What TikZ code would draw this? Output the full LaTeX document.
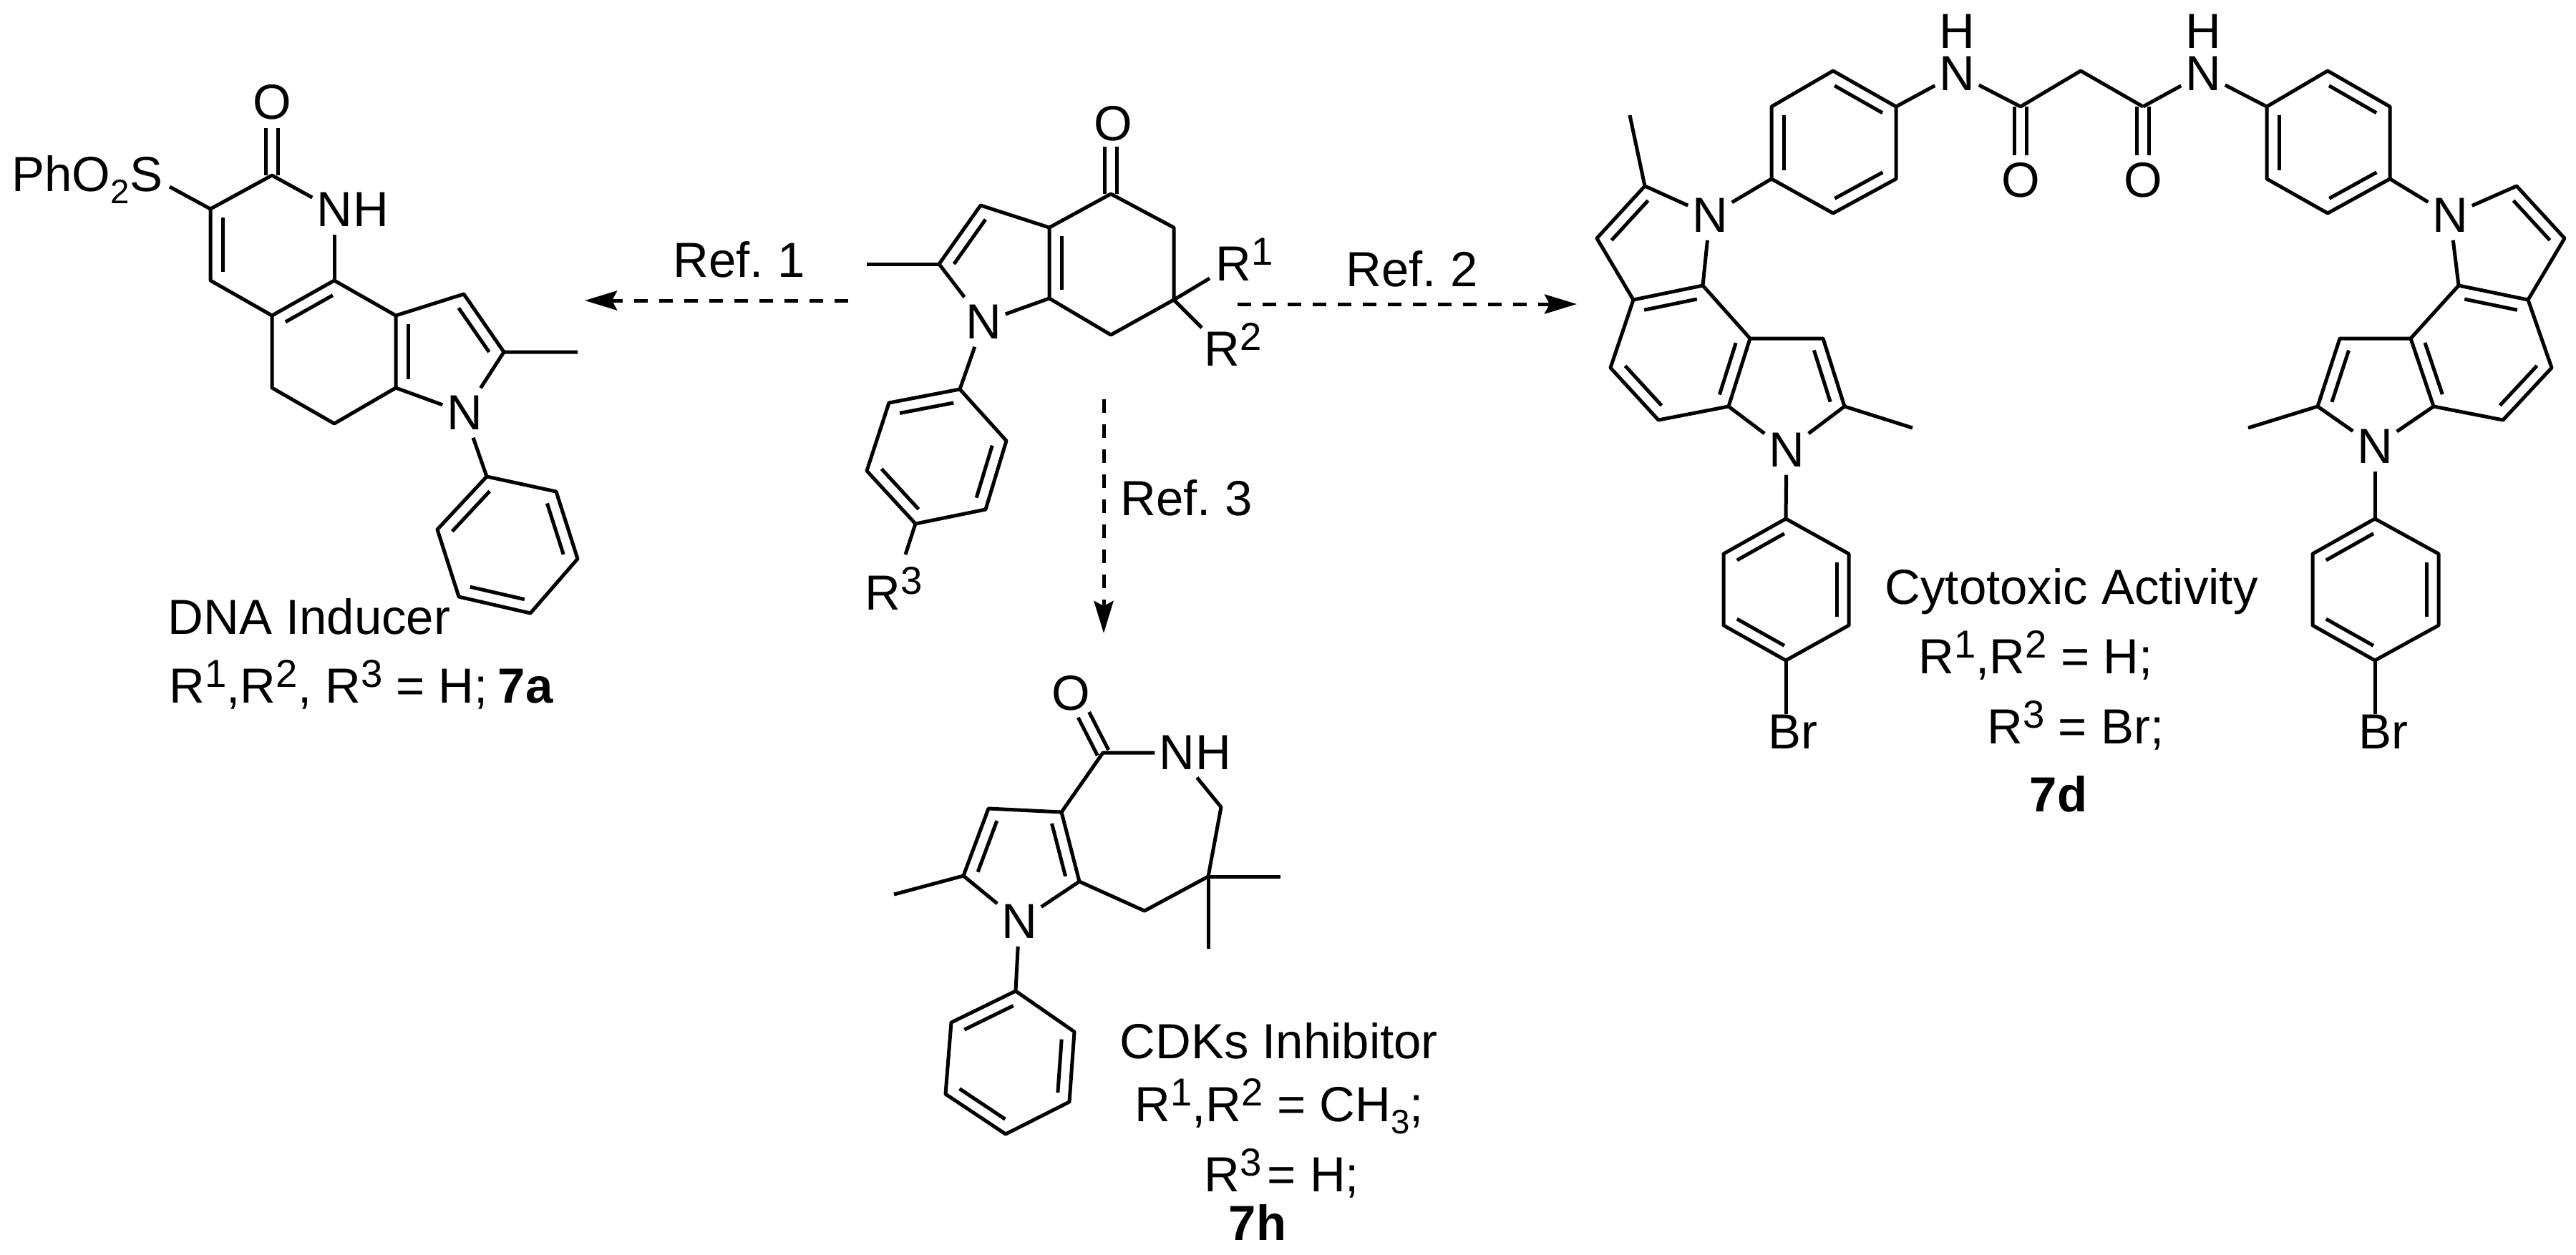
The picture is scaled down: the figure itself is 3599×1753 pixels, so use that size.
\documentclass[tikz,border=0pt]{standalone}
\usepackage{fontspec}
\setmainfont{Liberation Sans}
\usetikzlibrary{calc, positioning, arrows.meta}
\newcommand{\rsup}[1]{\raisebox{0.22cm}{\fontsize{15.5}{16}\selectfont #1}}
\newcommand{\rsub}[1]{\raisebox{-0.17cm}{\fontsize{13.5}{14}\selectfont #1}}
\newcommand{\dbond}[2]{\draw[bond] ($(#1)!.12!(#2)!0.17cm!90:(#2)$) -- ($(#2)!.12!(#1)!0.17cm!-90:(#1)$);}
\newcommand{\cobond}[2]{\draw[bond] ($(#1)!0.086cm!90:(#2)$) -- ($(#2)!0.086cm!-90:(#1)$);
  \draw[bond] ($(#1)!0.086cm!-90:(#2)$) -- ($(#2)!0.086cm!90:(#1)$);}
\tikzset{
  bond/.style={line width=0.05cm, line join=round},
  atom/.style={inner sep=0pt, minimum width=0.6cm, minimum height=0.68cm, font=\fontsize{19.6}{20}\selectfont},
  atomh/.style={inner sep=0pt, font=\fontsize{19.6}{20}\selectfont},
  txt/.style={inner sep=0pt, anchor=base west, font=\fontsize{19.6}{20}\selectfont},
  refarrow/.style={line width=0.05cm, dash pattern=on 0.19cm off 0.16cm, -{Stealth[length=0.45cm, width=0.27cm, inset=0.07cm]}}
}

\begin{document}
\frenchspacing
\begin{tikzpicture}[x=0.01cm, y=-0.01cm]
\useasboundingbox (0,0) rectangle (3599,1753);

\coordinate (a3) at (294,292); \coordinate (a2) at (380,245); \coordinate (a4) at (294,392);
\coordinate (a4b) at (380,441); \coordinate (a9b) at (467,392); \coordinate (a5) at (553,441);
\coordinate (a6) at (648,411); \coordinate (a7) at (704,492); \coordinate (ame) at (807,492);
\coordinate (a8) at (553,542); \coordinate (a10) at (467,592); \coordinate (a11) at (380,542);
\coordinate (aoe) at (380,179); \coordinate (ase) at (237,261);
\coordinate (ap1) at (680,666); \coordinate (ap2) at (777,687); \coordinate (ap3) at (807,781);
\coordinate (ap4) at (741,857); \coordinate (ap5) at (641,834); \coordinate (ap6) at (611,740);
\node[atom] (ao) at (380,143) {O};
\node[atom] (anh) at (467,293) {N};
\node[atomh, right=-0.05cm of anh] (anhh) {H};
\node[atom] (an) at (649,577) {N};
\node[txt] (aso2) at (16,267) {PhO\rsub{2}S};
\draw[bond] (ase) -- (a3) -- (a2) -- (anh);
\draw[bond] (a3) -- (a4) -- (a4b) -- (a9b) -- (a5) -- (a6) -- (a7) -- (ame);
\draw[bond] (anh) -- (a9b);
\draw[bond] (a7) -- (an) -- (a8) -- (a5);
\draw[bond] (a8) -- (a10) -- (a11) -- (a4b);
\draw[bond] (an) -- (ap1);
\draw[bond] (ap1) -- (ap2) -- (ap3) -- (ap4) -- (ap5) -- (ap6) -- cycle;
\cobond{a2}{aoe}
\dbond{a3}{a4} \dbond{a9b}{a4b} \dbond{a5}{a8} \dbond{a7}{a6}
\dbond{ap1}{ap6} \dbond{ap5}{ap4} \dbond{ap3}{ap2}
\node[txt] (adna) at (234,886) {DNA Inducer};
\node[txt] (ars) at (236,982) {R\rsup{1},R\rsup{2}, R\rsup{3} = H;\kern0.14cm\textbf{7a}};

\coordinate (m1) at (1552,271); \coordinate (m2) at (1640,318); \coordinate (m3) at (1640,419);
\coordinate (m4) at (1552,468); \coordinate (m5) at (1466,417); \coordinate (m6) at (1466,318);
\coordinate (m7) at (1370,287); \coordinate (m8) at (1312,369); \coordinate (mme) at (1211,369);
\coordinate (moe) at (1552,205); \coordinate (mr1) at (1690,389); \coordinate (mr2) at (1679,458);
\coordinate (mr3) at (1265,775);
\coordinate (mp1) at (1341,544); \coordinate (mp2) at (1406,616); \coordinate (mp3) at (1377,712);
\coordinate (mp4) at (1279,732); \coordinate (mp5) at (1211,658); \coordinate (mp6) at (1242,563);
\node[atom] (mo) at (1555,173) {O};
\node[atom] (mn) at (1374,450) {N};
\node[txt] (mrone) at (1698,392) {R\rsup{1}};
\node[txt] (mrtwo) at (1682,511) {R\rsup{2}};
\node[txt] (mrthree) at (1208,852) {R\rsup{3}};
\draw[bond] (m1) -- (m2) -- (m3) -- (m4) -- (m5) -- (m6) -- cycle;
\draw[bond] (m6) -- (m7) -- (m8) -- (mn) -- (m5);
\draw[bond] (m8) -- (mme);
\draw[bond] (m3) -- (mr1);
\draw[bond] (m3) -- (mr2);
\draw[bond] (mn) -- (mp1);
\draw[bond] (mp1) -- (mp2) -- (mp3) -- (mp4) -- (mp5) -- (mp6) -- cycle;
\draw[bond] (mp4) -- (mr3);
\cobond{m1}{moe}
\dbond{m6}{m5} \dbond{m7}{m8}
\dbond{mp1}{mp6} \dbond{mp3}{mp2} \dbond{mp5}{mp4}

\coordinate (ref1s) at (1185,420); \coordinate (ref1t) at (817,420);
\coordinate (ref2s) at (1729,425); \coordinate (ref2t) at (2203,425);
\coordinate (ref3s) at (1542,558); \coordinate (ref3t) at (1542,885);
\draw[refarrow] (ref1s) -- (ref1t);
\draw[refarrow] (ref2s) -- (ref2t);
\draw[refarrow] (ref3s) -- (ref3t);
\node[txt] (refone) at (940,387) {Ref. 1};
\node[txt] (reftwo) at (1880,400) {Ref. 2};
\node[txt] (refthree) at (1565,720) {Ref. 3};

\coordinate (h1) at (1541,1052); \coordinate (h2) at (1706,1128); \coordinate (h3) at (1688,1225);
\coordinate (h4) at (1599,1273); \coordinate (h5) at (1508,1232); \coordinate (h6) at (1483,1135);
\coordinate (h7) at (1381,1130); \coordinate (h8) at (1346,1224); \coordinate (hme) at (1249,1250);
\coordinate (hm1) at (1789,1225); \coordinate (hm2) at (1688,1326); \coordinate (hoe) at (1514,999);
\coordinate (hp1) at (1419,1385); \coordinate (hp2) at (1501,1442); \coordinate (hp3) at (1494,1540);
\coordinate (hp4) at (1405,1585); \coordinate (hp5) at (1321,1529); \coordinate (hp6) at (1329,1429);
\node[atom] (ho) at (1496,969) {O};
\node[atom] (hnh) at (1644,1052) {N};
\node[atomh, right=-0.05cm of hnh] (hnhh) {H};
\node[atom] (hn) at (1424,1288) {N};
\draw[bond] (h6) -- (h1) -- (hnh);
\draw[bond] (hnh) -- (h2) -- (h3) -- (h4) -- (h5) -- (h6) -- (h7) -- (h8) -- (hme);
\draw[bond] (h8) -- (hn) -- (h5);
\draw[bond] (hm1) -- (h3) -- (hm2);
\draw[bond] (hn) -- (hp1);
\draw[bond] (hp1) -- (hp2) -- (hp3) -- (hp4) -- (hp5) -- (hp6) -- cycle;
\cobond{h1}{hoe}
\dbond{h7}{h8} \dbond{h5}{h6}
\dbond{hp1}{hp6} \dbond{hp3}{hp2} \dbond{hp5}{hp4}
\node[txt] (hcdk) at (1564,1479) {CDKs Inhibitor};
\node[txt] (hrs) at (1585,1567) {R\rsup{1},R\rsup{2} = CH\rsub{3};};
\node[txt] (hrt) at (1682,1665) {R\rsup{3}\kern0.08cm= H;};
\node[txt] (hname) at (1716,1733) {\textbf{7h}};

\coordinate (u1) at (2298,260); \coordinate (u2) at (2231,333); \coordinate (u3) at (2282,419);
\coordinate (u4) at (2379,399); \coordinate (u5) at (2250,514); \coordinate (u6) at (2317,587);
\coordinate (u7) at (2415,568); \coordinate (u8) at (2445,473); \coordinate (u9) at (2547,473);
\coordinate (u10) at (2577,568); \coordinate (ume) at (2672,598); \coordinate (umt) at (2277,161);
\coordinate (y1) at (2475,149); \coordinate (y2) at (2561,99); \coordinate (y3) at (2649,149);
\coordinate (y4) at (2649,250); \coordinate (y5) at (2561,298); \coordinate (y6) at (2475,250);
\coordinate (z1) at (2495,725); \coordinate (z2) at (2583,774); \coordinate (z3) at (2583,874);
\coordinate (z4) at (2495,923); \coordinate (z5) at (2408,874); \coordinate (z6) at (2408,774);
\node[atom] (un1) at (2389,301) {N};
\node[atom] (un2) at (2496,629) {N};
\node[atom] (unh) at (2734,103) {N};
\node[atomh, above=0pt of unh] (unhh) {H};
\node[txt] (ubr) at (2470,1046) {Br};
\draw[bond] (umt) -- (u1) -- (u2) -- (u3) -- (u4) -- (u8) -- (u9) -- (u10) -- (ume);
\draw[bond] (u1) -- (un1) -- (u4);
\draw[bond] (u3) -- (u5) -- (u6) -- (u7) -- (u8);
\draw[bond] (u7) -- (un2) -- (u10);
\draw[bond] (un1) -- (y6);
\draw[bond] (y1) -- (y2) -- (y3) -- (y4) -- (y5) -- (y6) -- cycle;
\draw[bond] (y3) -- (unh);
\draw[bond] (un2) -- (z1);
\draw[bond] (z1) -- (z2) -- (z3) -- (z4) -- (z5) -- (z6) -- cycle;
\draw[bond] (z4) -- (z4 |- ubr.north);
\dbond{u1}{u2} \dbond{u4}{u3} \dbond{u5}{u6} \dbond{u7}{u8} \dbond{u10}{u9}
\dbond{y1}{y6} \dbond{y3}{y2} \dbond{y5}{y4}
\dbond{z1}{z6} \dbond{z3}{z2} \dbond{z5}{z4}

\coordinate (c1) at (2823,149); \coordinate (c2) at (2907,99); \coordinate (c3) at (2994,149);
\coordinate (c1e) at (2823,217); \coordinate (c3e) at (2994,217);
\node[atom] (co1) at (2823,252) {O};
\node[atom] (co2) at (2994,252) {O};
\draw[bond] (unh) -- (c1) -- (c2) -- (c3);
\cobond{c1}{c1e} \cobond{c3}{c3e}

\coordinate (s1) at (3516,260); \coordinate (s2) at (3583,333); \coordinate (s3) at (3532,419);
\coordinate (s4) at (3435,399); \coordinate (s5) at (3565,514); \coordinate (s6) at (3497,587);
\coordinate (s7) at (3400,568); \coordinate (s8) at (3368,473); \coordinate (s9) at (3269,473);
\coordinate (s10) at (3238,568); \coordinate (sme) at (3141,598);
\coordinate (x1) at (3167,149); \coordinate (x2) at (3252,99); \coordinate (x3) at (3339,149);
\coordinate (x4) at (3339,250); \coordinate (x5) at (3252,298); \coordinate (x6) at (3167,250);
\coordinate (w1) at (3318,725); \coordinate (w2) at (3407,774); \coordinate (w3) at (3407,874);
\coordinate (w4) at (3318,923); \coordinate (w5) at (3231,874); \coordinate (w6) at (3231,774);
\node[atom] (sn1) at (3423,301) {N};
\node[atom] (sn2) at (3318,624) {N};
\node[atom] (snh) at (3078,103) {N};
\node[atomh, above=0pt of snh] (snhh) {H};
\node[txt] (sbr) at (3295,1046) {Br};
\draw[bond] (c3) -- (snh) -- (x1);
\draw[bond] (x1) -- (x2) -- (x3) -- (x4) -- (x5) -- (x6) -- cycle;
\draw[bond] (x4) -- (sn1);
\draw[bond] (sn1) -- (s1) -- (s2) -- (s3) -- (s4) -- (s8) -- (s9) -- (s10) -- (sme);
\draw[bond] (sn1) -- (s4);
\draw[bond] (s3) -- (s5) -- (s6) -- (s7) -- (s8);
\draw[bond] (s10) -- (sn2) -- (s7);
\draw[bond] (sn2) -- (w1);
\draw[bond] (w1) -- (w2) -- (w3) -- (w4) -- (w5) -- (w6) -- cycle;
\draw[bond] (w4) -- (w4 |- sbr.north);
\dbond{s2}{s1} \dbond{s3}{s4} \dbond{s6}{s5} \dbond{s8}{s7} \dbond{s9}{s10}
\dbond{x1}{x6} \dbond{x3}{x2} \dbond{x5}{x4}
\dbond{w1}{w6} \dbond{w3}{w2} \dbond{w5}{w4}

\node[txt] (dcyto) at (2633,844) {Cytotoxic Activity};
\node[txt] (drs) at (2680,941) {R\rsup{1},R\rsup{2} = H;};
\node[txt] (drt) at (2776,1039) {R\rsup{3} = Br;};
\node[txt] (dname) at (2835,1134) {\textbf{7d}};
\end{tikzpicture}
\end{document}
